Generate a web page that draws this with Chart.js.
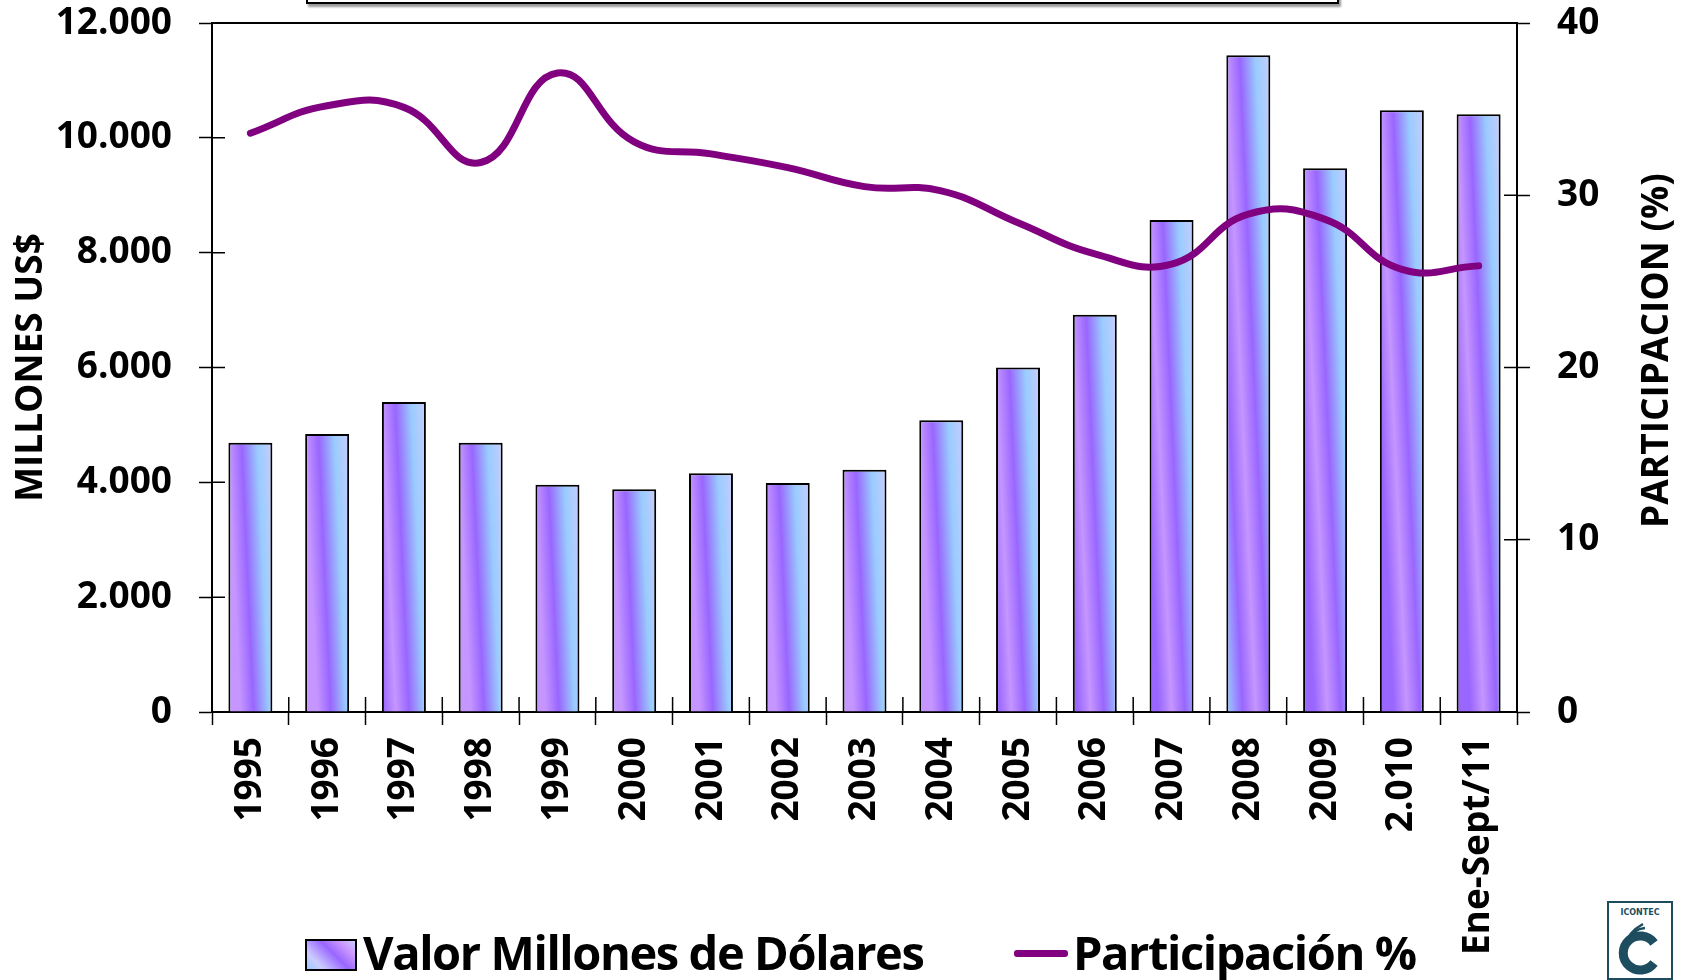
<!DOCTYPE html>
<html>
<head>
<meta charset="utf-8">
<script src="https://cdn.jsdelivr.net/npm/chart.js@4.4.1/dist/chart.umd.min.js"></script>
<style>
  html, body { margin: 0; padding: 0; background: #fff; }
  #wrap { position: relative; width: 1686px; height: 980px; overflow: hidden; font-family: 'Open Sans', sans-serif; }
  #chart { position: absolute; left: 0; top: 0; }
  .titlebox { position: absolute; left: 306px; top: -40px; width: 1029px; height: 40px; border: 2px solid #000; box-shadow: 2px 3px 2px #999; background: #fff; }
  .leg-box { position: absolute; left: 305px; top: 939px; width: 48px; height: 28px; border: 2px solid #000;
    background: linear-gradient(45deg, #99ccff 0%, #ccccff 22%, #9966ff 55%, #cc99ff 80%, #ccccff 100%); }
  .leg-line { position: absolute; left: 1014px; top: 950px; width: 54px; height: 7px; background: #800080; border-radius: 3px; }
  .leg-text { position: absolute; top: 929px; font-size: 47px; line-height: 47px; font-weight: 700; letter-spacing: -1.4px; color: #000; white-space: nowrap; }
  .logo { position: absolute; left: 1607px; top: 901px; }
</style>
</head>
<body>
<div id="wrap">
  <canvas id="chart" width="1686" height="980"></canvas>
  <div class="titlebox"></div>
  <div class="leg-box"></div>
  <div class="leg-text" style="left:363px">Valor Millones de Dólares</div>
  <div class="leg-line"></div>
  <div class="leg-text" style="left:1073px">Participación %</div>
  <svg class="logo" width="66" height="79" viewBox="0 0 66 79">
    <rect x="1" y="1" width="64" height="77" fill="#fff" stroke="#1d4d5e" stroke-width="2"/>
    <text x="33" y="14" font-size="8" font-weight="bold" text-anchor="middle" fill="#1d4d5e" font-family="DejaVu Sans">ICONTEC</text>
    <path d="M47 42 A17 17 0 1 0 47 62" fill="none" stroke="#1d4d5e" stroke-width="9"/>
    <path d="M20 40 Q26 28 38 27" fill="none" stroke="#1d4d5e" stroke-width="2.5"/>
    <path d="M17 46 Q21 31 36 23" fill="none" stroke="#1d4d5e" stroke-width="2.5"/>
  </svg>
</div>
<script>
const categories = ['1995', '1996', '1997', '1998', '1999', '2000', '2001', '2002', '2003',
  '2004', '2005', '2006', '2007', '2008', '2009', '2.010', 'Ene-Sept/11'];
// Valor Millones de Dólares (left axis)
const valorMillones = [4688, 4840, 5400, 4688, 3960, 3880, 4160, 3990, 4220,
  5080, 6000, 6920, 8570, 11440, 9470, 10480, 10410];
// Participación % (right axis)
const participacion = [33.6, 35.2, 35.1, 31.9, 37.1, 33.1, 32.4, 31.6, 30.5,
  30.25, 28.4, 26.6, 26.0, 28.9, 28.6, 25.7, 25.9];
const leftTicks = ['0', '2.000', '4.000', '6.000', '8.000', '10.000', '12.000'];
const rightTicks = ['0', '10', '20', '30', '40'];

const BAR_PCT = 0.573;
const FONT = "'Open Sans', sans-serif";
Chart.defaults.font.family = FONT;
Chart.defaults.color = '#000';

// slightly tilted, mirrored gradient like the office bar fill
const STOPS = [[0, '#c596ff'], [0.3, '#9966ff'], [0.66, '#99ccff'], [1, '#c8ccff']];
const TILT = -0.045;
function barFill(c) {
  const chart = c.chart;
  if (!chart.chartArea || c.type !== 'data') return '#9966ff';
  const xs = chart.scales.x, ys = chart.scales.y;
  const w = (xs.right - xs.left) / categories.length * BAR_PCT;
  const x0 = xs.getPixelForValue(c.dataIndex) - w / 2;
  const yt = ys.getPixelForValue(c.raw);
  const h = ys.getPixelForValue(0) - yt;
  const k = TILT;
  const shift = k * h / w;
  const tLo = Math.min(0, shift), tHi = Math.max(1, 1 + shift);
  const d = w / (1 + k * k);
  const g = chart.ctx.createLinearGradient(x0 + tLo * d, yt + tLo * k * d, x0 + tHi * d, yt + tHi * k * d);
  for (let cyc = Math.floor(tLo); cyc < tHi; cyc++) {
    const odd = ((cyc % 2) + 2) % 2 === 1;
    STOPS.forEach(([p, col]) => {
      const t = odd ? cyc + 1 - p : cyc + p;
      if (t >= tLo && t <= tHi) g.addColorStop((t - tLo) / (tHi - tLo), col);
    });
  }
  return g;
}

// top border, ticks crossing into the plot, right axis title
const frame = {
  id: 'frame',
  afterDraw(chart) {
    const { ctx, chartArea: a, scales } = chart;
    ctx.save();
    ctx.strokeStyle = '#000';
    ctx.lineWidth = 2;
    ctx.beginPath();
    ctx.moveTo(a.left - 1, a.top);
    ctx.lineTo(a.right + 1, a.top);
    ctx.stroke();

    ctx.lineWidth = 1.5;
    ctx.beginPath();
    scales.y.ticks.forEach(t => {
      const y = scales.y.getPixelForValue(t.value);
      ctx.moveTo(a.left, y); ctx.lineTo(a.left + 13, y);
    });
    scales.y1.ticks.forEach(t => {
      const y = scales.y1.getPixelForValue(t.value);
      ctx.moveTo(a.right, y); ctx.lineTo(a.right - 13, y);
    });
    const n = categories.length;
    for (let i = 0; i <= n; i++) {
      const x = a.left + i * (a.right - a.left) / n;
      ctx.moveTo(x, a.bottom); ctx.lineTo(x, a.bottom - 15);
    }
    ctx.stroke();

    ctx.translate(chart.width - 29, (a.top + a.bottom) / 2 - 17);
    ctx.rotate(-Math.PI / 2);
    ctx.font = "bold 37px " + FONT;
    ctx.fillStyle = '#000';
    ctx.textAlign = 'center';
    ctx.textBaseline = 'middle';
    ctx.fillText('PARTICIPACION (%)', 0, 0);
    ctx.restore();
  }
};

const tickFont = { size: 37, weight: 'bold' };
// keep the vertical axes from pushing the plot area down
const noPad = s => { s.paddingTop = 0; s.paddingBottom = 0; };

new Chart(document.getElementById('chart'), {
  type: 'bar',
  data: {
    labels: categories,
    datasets: [
      {
        type: 'line',
        label: 'Participación %',
        data: participacion,
        yAxisID: 'y1',
        borderColor: '#800080',
        borderWidth: 7,
        borderCapStyle: 'round',
        pointRadius: 0,
        tension: 0.45,
        fill: false,
        order: 0
      },
      {
        label: 'Valor Millones de Dólares',
        data: valorMillones,
        yAxisID: 'y',
        backgroundColor: barFill,
        borderColor: '#000',
        borderWidth: 2,
        barPercentage: BAR_PCT,
        categoryPercentage: 1,
        order: 1
      }
    ]
  },
  options: {
    responsive: false,
    animation: false,
    events: [],
    layout: { padding: { top: 23, left: 0, right: 0, bottom: 0 } },
    plugins: { legend: { display: false }, tooltip: { enabled: false } },
    scales: {
      x: {
        offset: true,
        grid: { offset: true, drawOnChartArea: false, tickLength: 13, tickColor: '#000', tickWidth: 1.5 },
        border: { color: '#000', width: 2 },
        ticks: { minRotation: 90, maxRotation: 90, autoSkip: false, padding: 12, font: tickFont, color: '#000' },
        afterFit: s => { s.height = 268; }
      },
      y: {
        position: 'left',
        min: 0,
        max: 12000,
        grid: { drawOnChartArea: false, tickLength: 13, tickColor: '#000', tickWidth: 1.5 },
        border: { color: '#000', width: 2 },
        ticks: { stepSize: 2000, padding: 27, font: tickFont, color: '#000', callback: (v, i) => leftTicks[i] },
        title: { display: true, text: 'MILLONES US$', font: { size: 37, weight: 'bold' }, color: '#000', padding: { top: 9, bottom: 0 } },
        afterFit: s => { s.width = 212; noPad(s); }
      },
      y1: {
        position: 'right',
        min: 0,
        max: 40,
        grid: { drawOnChartArea: false, tickLength: 13, tickColor: '#000', tickWidth: 1.5 },
        border: { color: '#000', width: 2 },
        ticks: { stepSize: 10, padding: 27, font: tickFont, color: '#000', callback: (v, i) => rightTicks[i] },
        afterFit: s => { s.width = 169; noPad(s); }
      }
    }
  },
  plugins: [frame]
});
</script>
</body>
</html>
